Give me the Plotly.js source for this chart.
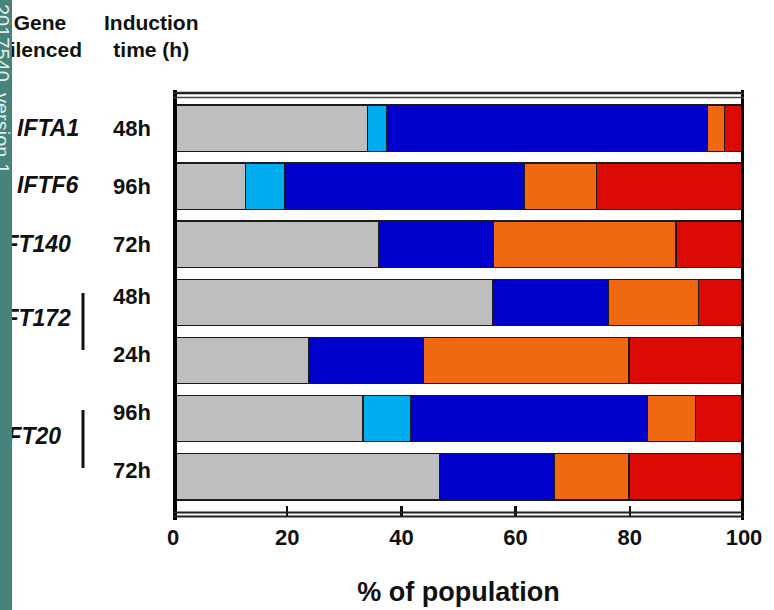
<!DOCTYPE html>
<html>
<head>
<meta charset="utf-8">
<script src="https://cdn.plot.ly/plotly-3.0.1.min.js"></script>
<style>
  html, body { margin: 0; padding: 0; background: #ffffff; }
  #chart { width: 774px; height: 610px; }
</style>
</head>
<body>
<div id="chart"></div>
<script>
// ---- Data (top to bottom) ----
var rowIds      = ["IFTA1 48h", "IFTF6 96h", "IFT140 72h", "IFT172 48h", "IFT172 24h", "IFT20 96h", "IFT20 72h"];
var timeLabels  = ["48h", "96h", "72h", "48h", "24h", "96h", "72h"];
var geneLabels  = ["IFTA1", "IFTF6", "IFT140", "IFT172", "IFT20"];

var grayVals    = [34.1, 12.7, 36.1, 56.0, 23.8, 33.3, 46.7];
var cyanVals    = [3.4,  6.8,  null, null, null, 8.4,  null];
var blueVals    = [56.1, 42.0, 20.0, 20.2, 20.1, 41.4, 20.0];
var orangeVals  = [3.0,  12.7, 32.0, 15.8, 36.0, 8.4,  13.2];
var redVals     = [3.4,  25.8, 11.9, 8.0,  20.1, 8.5,  20.1];

var xTicks      = [0, 20, 40, 60, 80, 100];

// ---- Geometry helpers (pixel -> paper) ----
var W = 774, H = 610;
var ML = 173, MR = 30, MT = 93, MB = 94;
var PW = W - ML - MR, PH = H - MT - MB;
function px(x) { return (x - ML) / PW; }
function py(y) { return (H - MB - y) / PH; }

var FONT = "Liberation Sans, Arial, Helvetica, sans-serif";
var edge = { color: "#1a1a1a", width: 1.5 };

function seg(vals, color, name) {
  return {
    type: "bar", orientation: "h", name: name,
    y: rowIds, x: vals,
    marker: { color: color, line: edge },
    hoverinfo: "x+name", showlegend: false
  };
}

var data = [
  seg(grayVals,   "#bebebe", "gray"),
  seg(cyanVals,   "#00aeef", "cyan"),
  seg(blueVals,   "#0000cc", "blue"),
  seg(orangeVals, "#f0680f", "orange"),
  seg(redVals,    "#dc0a05", "red")
];

var annotations = [];
// headers
annotations.push({ xref: "paper", yref: "paper", x: px(40), y: py(36), xanchor: "center", yanchor: "middle",
  text: "Gene<br>silenced", showarrow: false, align: "center",
  font: { family: FONT, size: 21, weight: "bold", color: "#111" } });
annotations.push({ xref: "paper", yref: "paper", x: px(151), y: py(36), xanchor: "center", yanchor: "middle",
  text: "Induction<br>time (h)", showarrow: false, align: "center",
  font: { family: FONT, size: 21, weight: "bold", color: "#111" } });

// time labels
for (var i = 0; i < rowIds.length; i++) {
  annotations.push({ xref: "paper", yref: "y", x: px(153), y: rowIds[i], xanchor: "right", yanchor: "middle",
    yshift: i >= 3 ? 6 : 0,
    text: timeLabels[i], showarrow: false,
    font: { family: FONT, size: 22, weight: "bold", color: "#111" } });
}

// gene labels (right edges / vertical centres in pixels)
var geneRight = [81, 81, 73, 73, 63];
var geneY     = [128, 185, 244, 318, 436];
for (var g = 0; g < geneLabels.length; g++) {
  annotations.push({ xref: "paper", yref: "paper", x: px(geneRight[g]), y: py(geneY[g]), xanchor: "right", yanchor: "middle",
    text: geneLabels[g], showarrow: false,
    font: { family: FONT, size: 23, weight: "bold", style: "italic", color: "#111" } });
}

// teal side strip on top of the gene labels
annotations.push({ xref: "paper", yref: "paper", x: px(0), y: py(305), xanchor: "left", yanchor: "middle",
  text: " ", showarrow: false, width: 12, height: 640, bgcolor: "#46837a", borderpad: 0, borderwidth: 0,
  font: { family: FONT, size: 10, color: "#46837a" } });
annotations.push({ xref: "paper", yref: "paper", x: px(2), y: py(2), xanchor: "center", yanchor: "top",
  text: "2017540, version 1", showarrow: false, textangle: 90,
  font: { family: FONT, size: 20, color: "#dfeeea" } });

var shapes = [
  // thick side frames
  { type: "line", xref: "x", yref: "paper", x0: 0, x1: 0, y0: py(520), y1: py(90), line: { color: "#000", width: 8 }, layer: "above" },
  { type: "line", xref: "x", yref: "paper", x0: 100, x1: 100, y0: py(520), y1: py(90), line: { color: "#000", width: 6 }, layer: "above" },
  // top double line
  { type: "line", xref: "x", yref: "paper", x0: 0, x1: 100, y0: py(93), y1: py(93), line: { color: "#222", width: 2.5 }, layer: "above" },
  { type: "line", xref: "x", yref: "paper", x0: 0, x1: 100, y0: py(97.5), y1: py(97.5), line: { color: "#444", width: 1.5 }, layer: "above" },
  // bottom double line
  { type: "line", xref: "x", yref: "paper", x0: 0, x1: 100, y0: py(512.5), y1: py(512.5), line: { color: "#222", width: 2 }, layer: "above" },
  { type: "line", xref: "x", yref: "paper", x0: 0, x1: 100, y0: py(516.5), y1: py(516.5), line: { color: "#222", width: 2 }, layer: "above" },
  // group brackets
  { type: "line", xref: "paper", yref: "paper", x0: px(83), x1: px(83), y0: py(293), y1: py(350), line: { color: "#111", width: 3 } },
  { type: "line", xref: "paper", yref: "paper", x0: px(83), x1: px(83), y0: py(410), y1: py(468), line: { color: "#111", width: 3 } }
];

var layout = {
  width: W, height: H,
  margin: { l: ML, r: MR, t: MT, b: MB, pad: 0 },
  paper_bgcolor: "#ffffff", plot_bgcolor: "#ffffff",
  barmode: "stack", bargap: 0.2,
  showlegend: false,
  xaxis: {
    range: [0, 100], tickvals: xTicks, ticktext: xTicks.map(String),
    ticks: "inside", ticklen: 10, tickwidth: 2.5, tickcolor: "#111",
    ticklabelstandoff: 6,
    showgrid: false, zeroline: false, showline: false, fixedrange: true,
    tickfont: { family: FONT, size: 22, weight: "bold", color: "#111" },
    title: { text: "% of population", standoff: 33,
             font: { family: FONT, size: 27, weight: "bold", color: "#111" } }
  },
  yaxis: {
    type: "category", categoryorder: "array", categoryarray: rowIds,
    range: [6.68, -0.61], showticklabels: false, ticks: "",
    showgrid: false, zeroline: false, showline: false, fixedrange: true
  },
  shapes: shapes,
  annotations: annotations
};

Plotly.newPlot("chart", data, layout, { displayModeBar: false, staticPlot: true });
</script>
</body>
</html>
